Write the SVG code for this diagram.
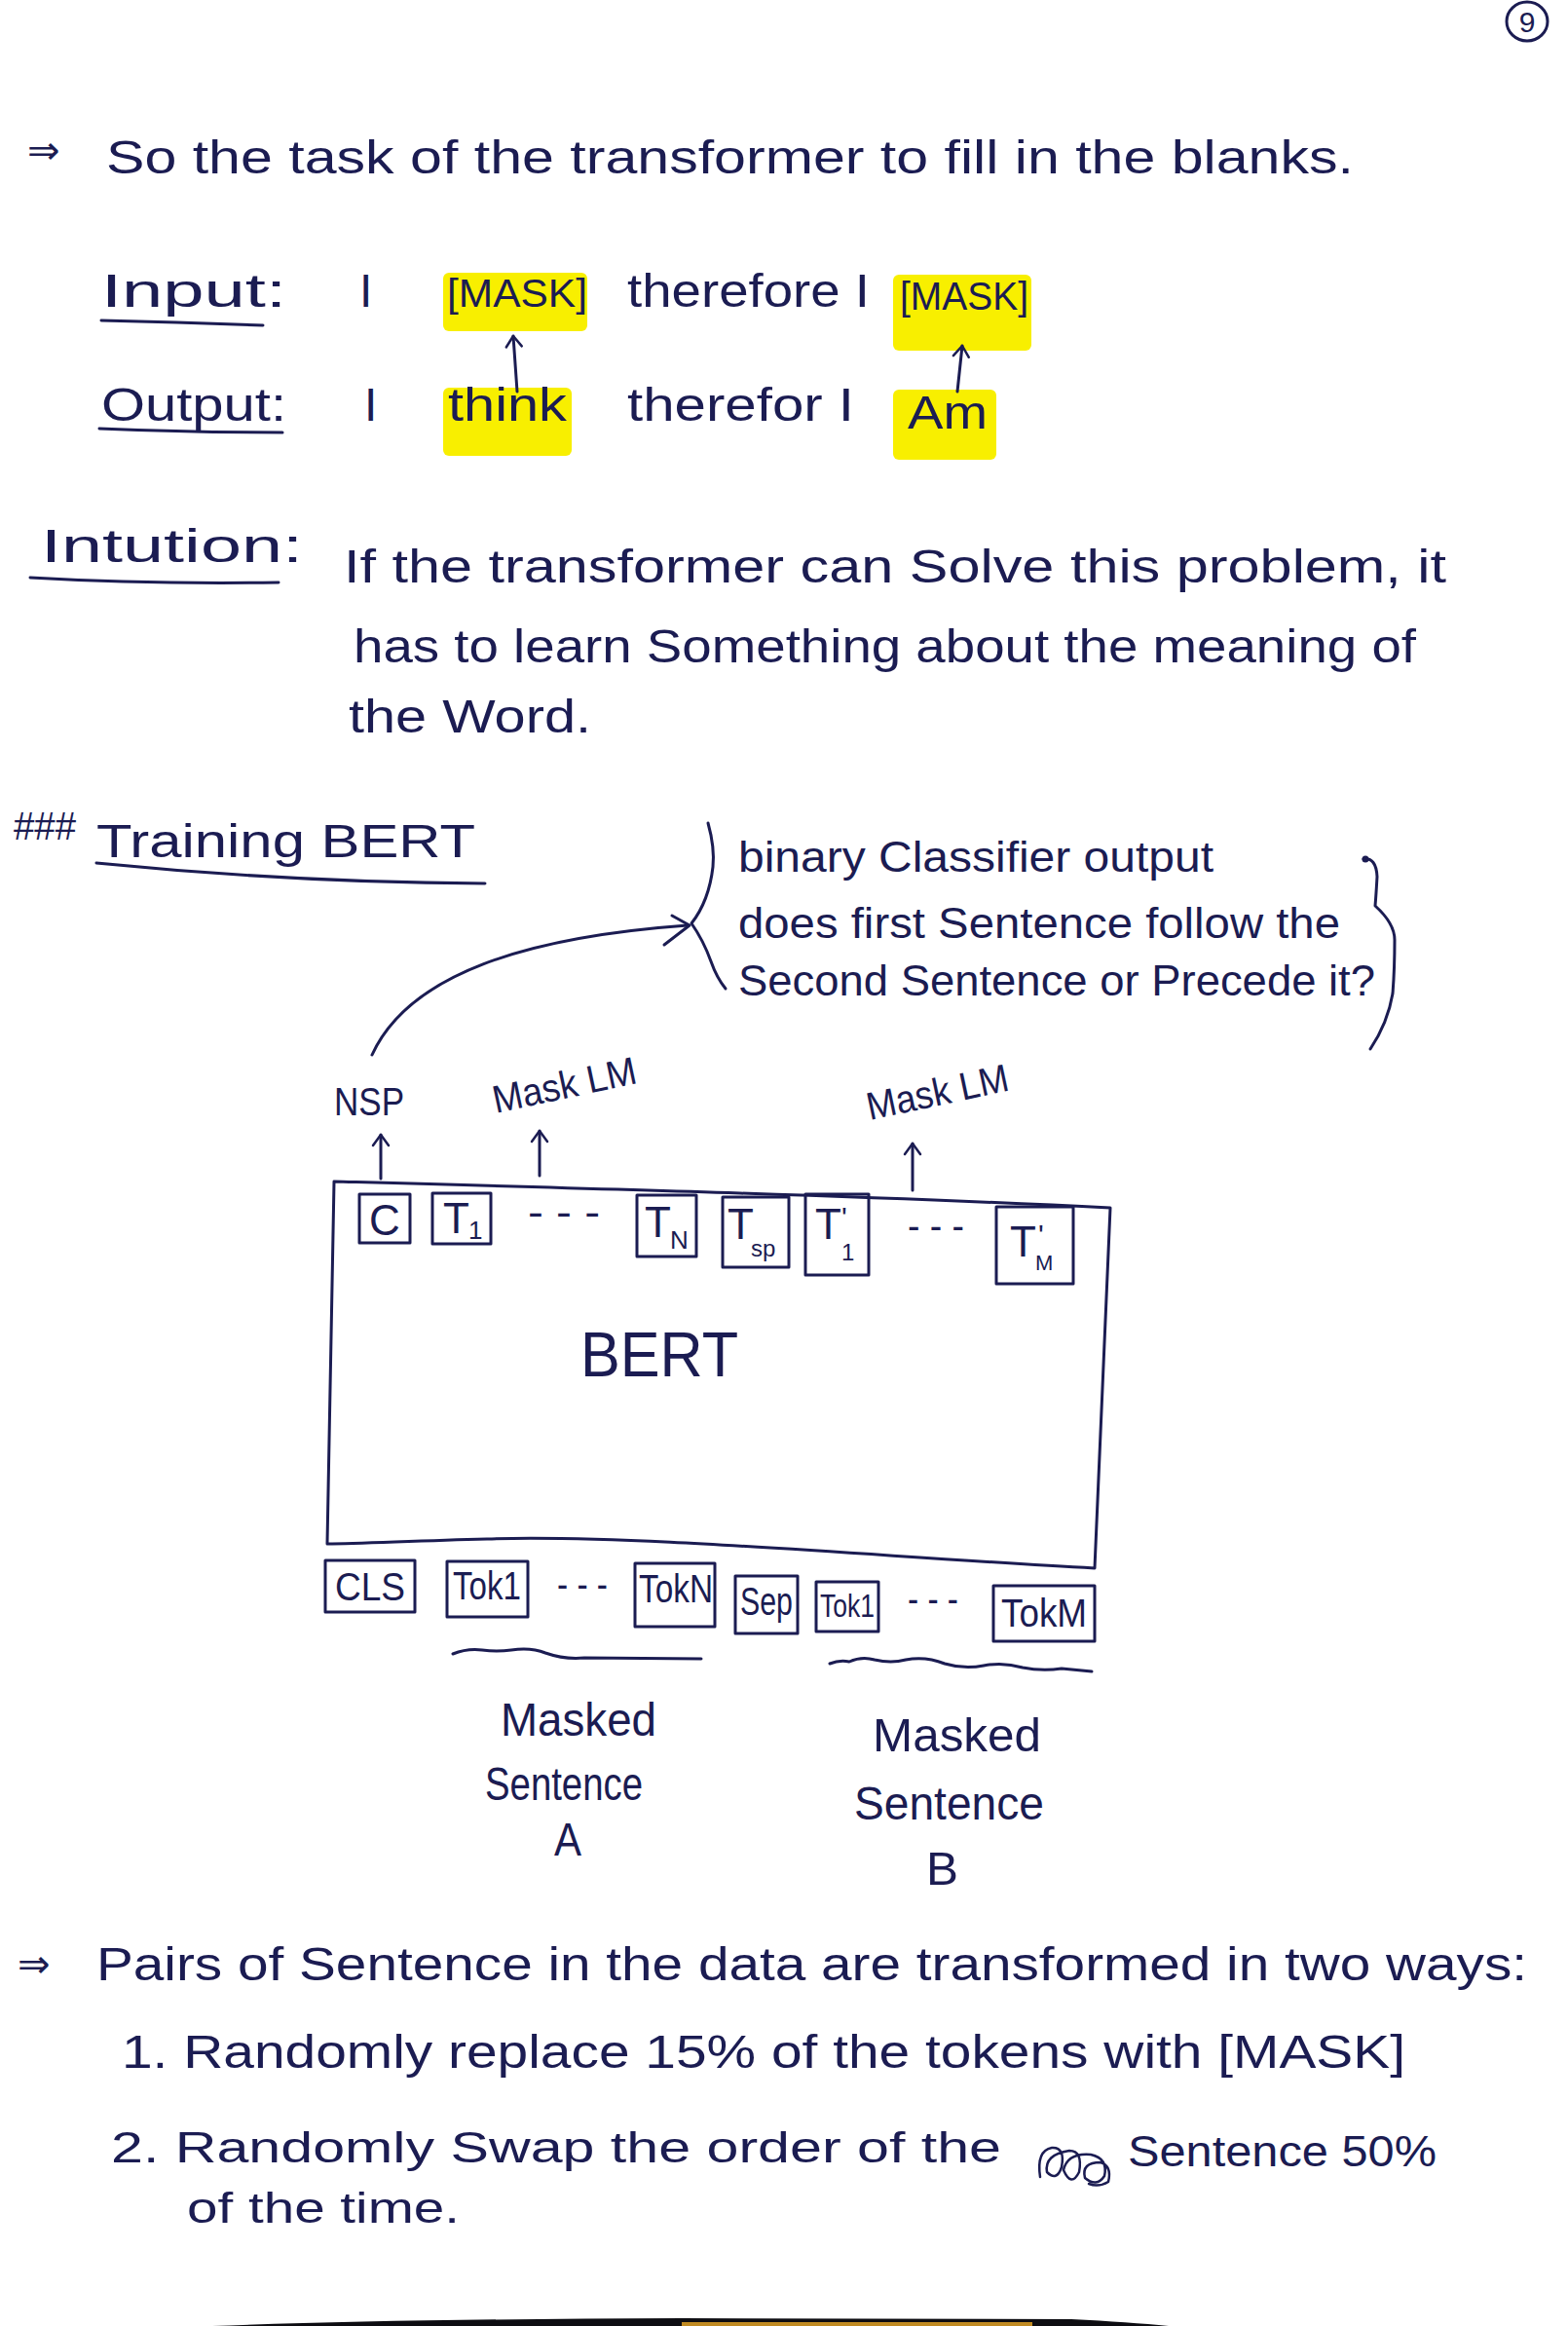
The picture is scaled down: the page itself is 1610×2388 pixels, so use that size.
<svg xmlns="http://www.w3.org/2000/svg" width="1610" height="2388" viewBox="0 0 1610 2388">
<defs>
<style>
.t{font-family:"Liberation Sans","DejaVu Sans",sans-serif;fill:#1b1c52;font-size:48px}
.s{font-size:40px}
.m{font-size:44px}
.ln{fill:none;stroke:#1b1c52;stroke-width:3;stroke-linecap:round;stroke-linejoin:round}
.bx{fill:none;stroke:#1b1c52;stroke-width:3;stroke-linejoin:round}
.hl{fill:#f8ef00}
</style>
<marker id="ah" viewBox="0 0 20 20" refX="18" refY="10" markerWidth="20" markerHeight="20" markerUnits="userSpaceOnUse" orient="auto">
<path d="M7 2 L18 10 L7 18" fill="none" stroke="#1b1c52" stroke-width="2.5" stroke-linecap="round" stroke-linejoin="round"/>
</marker>
</defs>
<rect width="1610" height="2388" fill="#ffffff"/>

<g id="page-number">
<ellipse cx="1568" cy="22" rx="21" ry="20" class="bx"/>
<text x="1568" y="33" class="t" style="font-size:30px" text-anchor="middle">9</text>
</g>

<g id="intro-line">
<text x="28" y="168" class="t s">⇒</text>
<text x="109" y="178" class="t" textLength="1281" lengthAdjust="spacingAndGlyphs">So the task of the transformer to fill in the blanks.</text>
</g>

<g id="input-row">
<text x="104" y="315" class="t" textLength="190" lengthAdjust="spacingAndGlyphs">Input:</text>
<path class="ln" d="M104 329 Q190 331 270 334"/>
<text x="369" y="315" class="t">I</text>
<rect id="mask1-hl" class="hl" x="455" y="280" width="148" height="60" rx="6"/>
<text x="459" y="315" class="t s" textLength="144" lengthAdjust="spacingAndGlyphs">[MASK]</text>
<text x="644" y="315" class="t" textLength="249" lengthAdjust="spacingAndGlyphs">therefore I</text>
<rect id="mask2-hl" class="hl" x="917" y="282" width="142" height="78" rx="6"/>
<text x="924" y="318" class="t s" textLength="132" lengthAdjust="spacingAndGlyphs">[MASK]</text>
</g>

<g id="output-row">
<text x="104" y="432" class="t" textLength="190" lengthAdjust="spacingAndGlyphs">Output:</text>
<path class="ln" d="M102 440 Q200 444 290 444"/>
<text x="374" y="432" class="t">I</text>
<rect id="think-hl" class="hl" x="455" y="398" width="132" height="70" rx="6"/>
<text x="460" y="432" class="t" textLength="122" lengthAdjust="spacingAndGlyphs">think</text>
<text x="644" y="432" class="t" textLength="233" lengthAdjust="spacingAndGlyphs">therefor I</text>
<rect id="am-hl" class="hl" x="917" y="400" width="106" height="72" rx="6"/>
<text x="932" y="440" class="t" textLength="82" lengthAdjust="spacingAndGlyphs">Am</text>
</g>

<g id="intuition">
<text x="42" y="577" class="t" textLength="269" lengthAdjust="spacingAndGlyphs">Intution:</text>
<path class="ln" d="M31 593 Q150 600 286 598"/>
<text x="353" y="598" class="t" textLength="1132" lengthAdjust="spacingAndGlyphs">If the transformer can Solve this problem, it</text>
<text x="363" y="680" class="t" textLength="1091" lengthAdjust="spacingAndGlyphs">has to learn Something about the meaning of</text>
<text x="358" y="752" class="t" textLength="249" lengthAdjust="spacingAndGlyphs">the Word.</text>
</g>

<g id="training-heading">
<text x="14" y="862" class="t s" textLength="64" lengthAdjust="spacingAndGlyphs">###</text>
<text x="99" y="880" class="t" textLength="389" lengthAdjust="spacingAndGlyphs">Training BERT</text>
<path class="ln" d="M99 886 Q300 906 498 907"/>
</g>

<g id="nsp-note">
<path class="ln" d="M727 845 Q734 870 732 890 Q728 925 710 948 Q722 965 730 987 Q736 1004 745 1015"/>
<text x="758" y="895" class="t m" textLength="488" lengthAdjust="spacingAndGlyphs">binary Classifier output</text>
<text x="758" y="963" class="t m" textLength="618" lengthAdjust="spacingAndGlyphs">does first Sentence follow the</text>
<text x="758" y="1022" class="t m" textLength="654" lengthAdjust="spacingAndGlyphs">Second Sentence or Precede it?</text>
<path class="ln" d="M1400 882 Q1413 880 1414 900 Q1413 918 1412 930 Q1432 948 1432 965 Q1432 995 1430 1020 Q1425 1050 1407 1077"/>
<circle cx="1402" cy="882" r="3.5" fill="#1b1c52"/>
</g>

<g id="output-labels">
<text x="343" y="1145" class="t s" textLength="72" lengthAdjust="spacingAndGlyphs">NSP</text>
<text x="509" y="1143" class="t s" textLength="150" lengthAdjust="spacingAndGlyphs" transform="rotate(-12 509 1143)">Mask LM</text>
<text x="893" y="1150" class="t s" textLength="148" lengthAdjust="spacingAndGlyphs" transform="rotate(-12 893 1150)">Mask LM</text>
</g>

<g id="bert">
<path class="bx" d="M343 1213 C600 1220 900 1228 1140 1240 L1124 1610 C900 1598 650 1575 500 1580 C420 1582 370 1585 336 1585 Z"/>
<text x="596" y="1413" class="t" style="font-size:64px" textLength="162" lengthAdjust="spacingAndGlyphs">BERT</text>
</g>

<g id="tok-C"><rect class="bx" x="369" y="1226" width="52" height="50"/><text x="395" y="1268" class="t m" text-anchor="middle">C</text></g>
<g id="tok-T1"><rect class="bx" x="444" y="1225" width="60" height="52"/><text x="455" y="1266" class="t m">T</text><text x="481" y="1272" class="t" style="font-size:26px">1</text></g>
<g id="dots-top-1"><text x="542" y="1258" class="t s" textLength="74" lengthAdjust="spacingAndGlyphs">- - -</text></g>
<g id="tok-TN"><rect class="bx" x="654" y="1227" width="61" height="63"/><text x="662" y="1270" class="t m">T</text><text x="688" y="1282" class="t" style="font-size:26px">N</text></g>
<g id="tok-Tsp"><rect class="bx" x="742" y="1229" width="68" height="72"/><text x="747" y="1272" class="t m">T</text><text x="771" y="1290" class="t" style="font-size:24px">sp</text></g>
<g id="tok-T1p"><rect class="bx" x="827" y="1226" width="65" height="83"/><text x="837" y="1272" class="t m">T</text><text x="864" y="1260" class="t" style="font-size:30px">'</text><text x="864" y="1294" class="t" style="font-size:24px">1</text></g>
<g id="dots-top-2"><text x="932" y="1272" class="t s" textLength="58" lengthAdjust="spacingAndGlyphs">- - -</text></g>
<g id="tok-TMp"><rect class="bx" x="1023" y="1239" width="79" height="79"/><text x="1037" y="1290" class="t m">T</text><text x="1066" y="1278" class="t" style="font-size:30px">'</text><text x="1063" y="1304" class="t" style="font-size:22px">M</text></g>

<g id="tok-CLS"><rect class="bx" x="334" y="1602" width="92" height="53"/><text x="380" y="1643" class="t s" text-anchor="middle" textLength="72" lengthAdjust="spacingAndGlyphs">CLS</text></g>
<g id="tok-Tok1a"><rect class="bx" x="459" y="1603" width="83" height="57"/><text x="465" y="1642" class="t s" textLength="70" lengthAdjust="spacingAndGlyphs">Tok1</text></g>
<g id="dots-bot-1"><text x="572" y="1640" class="t s" textLength="52" lengthAdjust="spacingAndGlyphs">- - -</text></g>
<g id="tok-TokN"><rect class="bx" x="652" y="1605" width="82" height="65"/><text x="656" y="1645" class="t s" textLength="76" lengthAdjust="spacingAndGlyphs">TokN</text></g>
<g id="tok-Sep"><rect class="bx" x="755" y="1618" width="64" height="59"/><text x="760" y="1658" class="t s" textLength="54" lengthAdjust="spacingAndGlyphs">Sep</text></g>
<g id="tok-Tok1b"><rect class="bx" x="838" y="1624" width="64" height="51"/><text x="842" y="1660" class="t" style="font-size:34px" textLength="56" lengthAdjust="spacingAndGlyphs">Tok1</text></g>
<g id="dots-bot-2"><text x="932" y="1655" class="t s" textLength="52" lengthAdjust="spacingAndGlyphs">- - -</text></g>
<g id="tok-TokM"><rect class="bx" x="1020" y="1628" width="104" height="57"/><text x="1028" y="1670" class="t s" textLength="88" lengthAdjust="spacingAndGlyphs">TokM</text></g>

<g id="sentence-A">
<path class="ln" d="M465 1698 Q480 1692 495 1694 Q510 1696 525 1694 Q545 1691 560 1697 Q580 1704 600 1702 L720 1703"/>
<text x="514" y="1782" class="t" textLength="160" lengthAdjust="spacingAndGlyphs">Masked</text>
<text x="498" y="1848" class="t" textLength="162" lengthAdjust="spacingAndGlyphs">Sentence</text>
<text x="569" y="1905" class="t" textLength="28" lengthAdjust="spacingAndGlyphs">A</text>
</g>
<g id="sentence-B">
<path class="ln" d="M852 1708 Q862 1704 872 1706 Q885 1700 898 1704 Q915 1708 930 1704 Q950 1700 970 1708 Q990 1714 1010 1710 Q1030 1706 1050 1712 Q1070 1716 1090 1713 L1121 1716"/>
<text x="896" y="1798" class="t" textLength="173" lengthAdjust="spacingAndGlyphs">Masked</text>
<text x="877" y="1868" class="t" textLength="195" lengthAdjust="spacingAndGlyphs">Sentence</text>
<text x="951" y="1935" class="t" textLength="33" lengthAdjust="spacingAndGlyphs">B</text>
</g>

<g id="connectors">
<path class="ln" d="M531 402 L527 345" marker-end="url(#ah)"/>
<path class="ln" d="M983 402 L988 355" marker-end="url(#ah)"/>
<path class="ln" d="M382 1083 C420 1000 540 962 706 950"/>
<path class="ln" d="M690 940 L708 950 L682 970"/>
<path class="ln" d="M391 1210 L391 1165" marker-end="url(#ah)"/>
<path class="ln" d="M554 1207 L554 1161" marker-end="url(#ah)"/>
<path class="ln" d="M937 1222 L937 1174" marker-end="url(#ah)"/>
</g>

<g id="summary">
<text x="18" y="2030" class="t s">⇒</text>
<text x="99" y="2033" class="t" textLength="1469" lengthAdjust="spacingAndGlyphs">Pairs of Sentence in the data are transformed in two ways:</text>
<text x="125" y="2123" class="t" textLength="1318" lengthAdjust="spacingAndGlyphs">1. Randomly replace 15% of the tokens with [MASK]</text>
<text x="114" y="2220" class="t m" textLength="914" lengthAdjust="spacingAndGlyphs">2. Randomly Swap the order of the</text>
<path class="ln" style="stroke-width:2.5" d="M1068 2235 Q1064 2208 1080 2205 Q1094 2204 1090 2225 Q1085 2240 1075 2230 Q1072 2212 1098 2208 Q1112 2208 1108 2230 Q1100 2246 1092 2228 Q1096 2210 1120 2212 Q1138 2216 1134 2234 Q1126 2246 1114 2236 Q1110 2220 1130 2220 Q1142 2224 1138 2240 Q1128 2246 1118 2242"/>
<text x="1158" y="2224" class="t m" textLength="317" lengthAdjust="spacingAndGlyphs">Sentence 50%</text>
<text x="192" y="2282" class="t m" textLength="280" lengthAdjust="spacingAndGlyphs">of the time.</text>
</g>

<g id="page-edge">
<path d="M218 2388 Q400 2381 700 2380 L1100 2381 Q1160 2384 1200 2388 Z" fill="#0d0d12"/>
<path d="M700 2384 L1060 2384 L1060 2388 L700 2388 Z" fill="#c08a22"/>
</g>
</svg>
